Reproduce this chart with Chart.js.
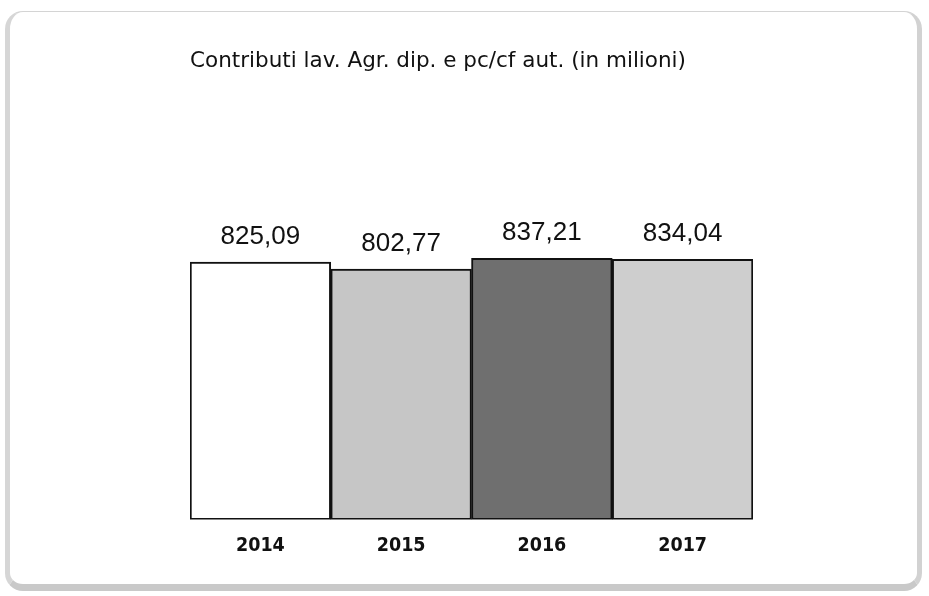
<!DOCTYPE html>
<html>
<head>
<meta charset="utf-8">
<script src="https://cdn.jsdelivr.net/npm/chart.js@4/dist/chart.umd.min.js"></script>
<style>
  html, body { margin: 0; padding: 0; background: #ffffff; }
  #wrap { position: relative; width: 929px; height: 596px; overflow: hidden; background: #fff; }
  #frame {
    position: absolute; left: 5px; top: 11px; width: 917px; height: 580px;
    border-top: 1px solid #d4d4d4; border-left: 5px solid #d6d6d6;
    border-right: 5px solid #d2d2d2; border-bottom: 7px solid #c9c9c9;
    border-radius: 18px; box-sizing: border-box;
  }
  canvas { position: absolute; left: 0; top: 0; }
</style>
</head>
<body>
<div id="wrap">
  <div id="frame"></div>
  <canvas id="c" width="929" height="596"></canvas>
</div>
<script>
const titleText = 'Contributi lav. Agr. dip. e pc/cf aut. (in milioni)';
const categories = ['2014', '2015', '2016', '2017'];
const values = [825.09, 802.77, 837.21, 834.04];
const valueLabels = ['825,09', '802,77', '837,21', '834,04'];
const barColors = ['#ffffff', '#c6c6c6', '#6f6f6f', '#cecece'];

const valueLabelPlugin = {
  id: 'valueLabels',
  afterDatasetsDraw(chart) {
    const ctx = chart.ctx;
    const meta = chart.getDatasetMeta(0);
    ctx.save();
    ctx.font = '26px "Liberation Sans", Arial, sans-serif';
    ctx.fillStyle = '#111111';
    ctx.textAlign = 'center';
    ctx.textBaseline = 'alphabetic';
    meta.data.forEach((bar, i) => {
      ctx.fillText(valueLabels[i], bar.x, bar.y - 18);
    });
    ctx.restore();
  }
};

new Chart(document.getElementById('c'), {
  type: 'bar',
  data: {
    labels: categories,
    datasets: [{
      data: values,
      backgroundColor: barColors,
      borderColor: '#111111',
      borderWidth: 2,
      borderSkipped: false,
      categoryPercentage: 1.0,
      barPercentage: 1.0
    }]
  },
  options: {
    responsive: false,
    animation: false,
    events: [],
    layout: { padding: { top: 0, left: 190, right: 176, bottom: 23 } },
    plugins: {
      legend: { display: false },
      tooltip: { enabled: false },
      title: {
        display: true,
        text: titleText,
        align: 'start',
        color: '#111111',
        font: { family: '"DejaVu Sans", Verdana, sans-serif', size: 21.5, weight: 'normal', lineHeight: 1.2 },
        padding: { top: 49, bottom: 132.7 }
      }
    },
    scales: {
      x: {
        grid: { display: false, drawTicks: false },
        border: { display: false },
        ticks: {
          color: '#111111',
          padding: 15,
          font: { family: '"DejaVu Sans Condensed", "DejaVu Sans", sans-serif', size: 19.5, weight: 'bold', lineHeight: 1.2 }
        }
      },
      y: {
        display: false,
        min: 0,
        max: 1000
      }
    }
  },
  plugins: [valueLabelPlugin]
});
</script>
</body>
</html>
